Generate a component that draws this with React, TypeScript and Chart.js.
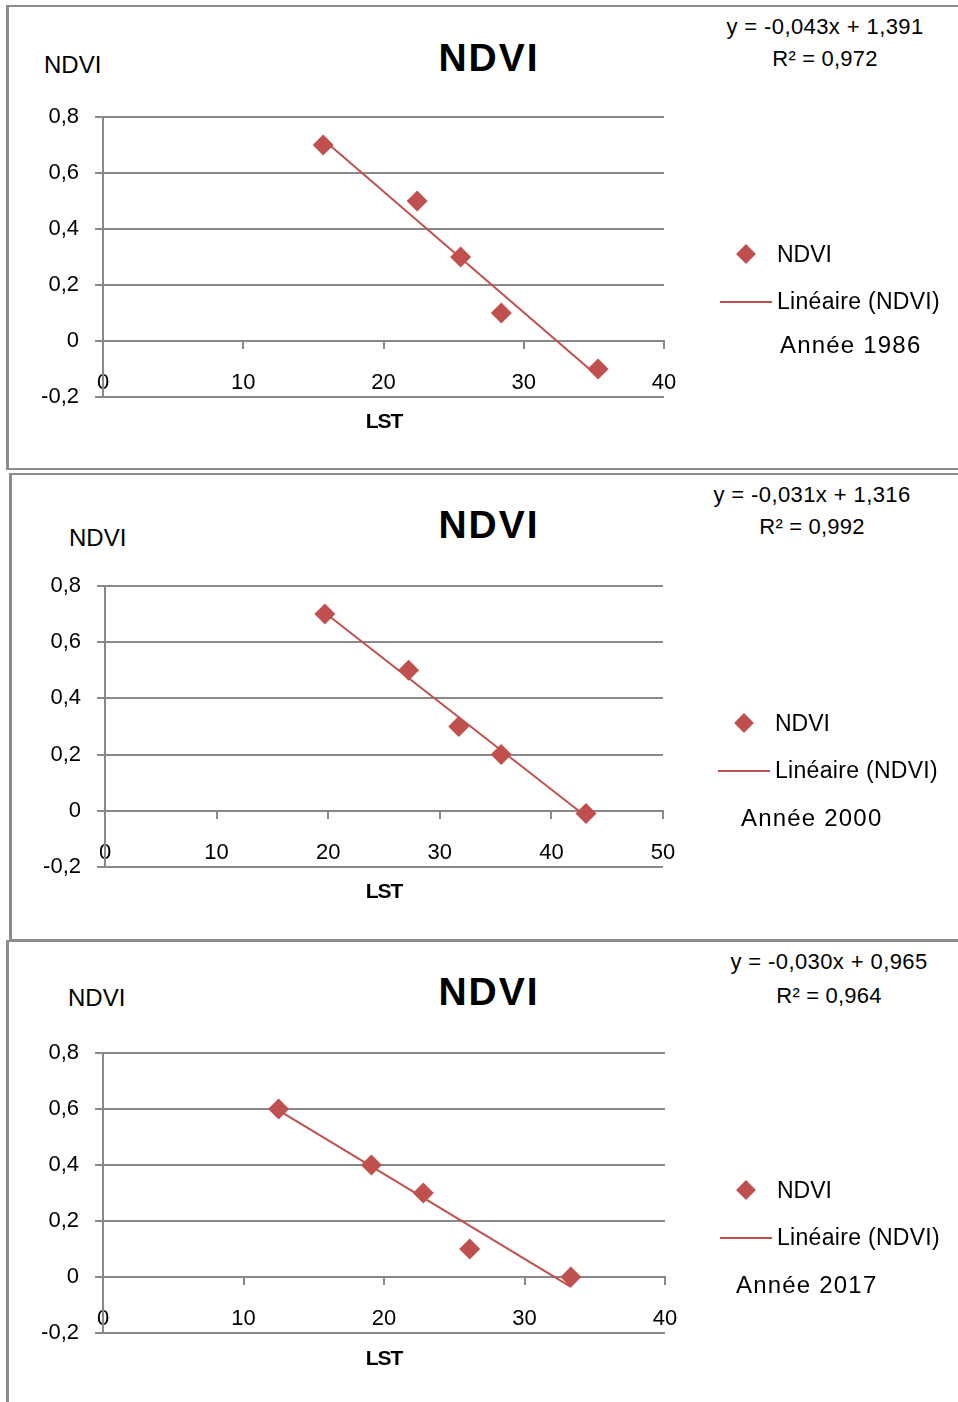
import React, { useEffect, useRef } from 'react';
import { Chart, registerables } from 'chart.js';

Chart.register(...registerables);

const FONT = '"Liberation Sans", Arial, Helvetica, sans-serif';
const RED = '#C0504D';
const GRID = '#898989';
const BORDER = '#8c8c8c';

// ---- data ----
const Y_TICKS = [-0.2, 0, 0.2, 0.4, 0.6, 0.8];
const X_TICKS_1986 = [0, 10, 20, 30, 40];
const X_TICKS_2000 = [0, 10, 20, 30, 40, 50];
const X_TICKS_2017 = [0, 10, 20, 30, 40];

const LST_1986 = [15.7, 22.4, 25.5, 28.4, 35.3];
const NDVI_1986 = [0.7, 0.5, 0.3, 0.1, -0.1];
const TREND_LST_1986 = [15.7, 35.3];
const TREND_NDVI_1986 = [0.72, -0.127];

const LST_2000 = [19.7, 27.2, 31.7, 35.5, 43.1];
const NDVI_2000 = [0.7, 0.5, 0.3, 0.2, -0.01];
const TREND_LST_2000 = [19.7, 43.1];
const TREND_NDVI_2000 = [0.705, -0.02];

const LST_2017 = [12.5, 19.1, 22.8, 26.1, 33.3];
const NDVI_2017 = [0.6, 0.4, 0.3, 0.1, 0.0];
const TREND_LST_2017 = [12.5, 33.3];
const TREND_NDVI_2017 = [0.595, -0.035];

const TITLE = 'NDVI';
const Y_TITLE = 'NDVI';
const X_TITLE = 'LST';
const LEGEND_POINTS = 'NDVI';
const LEGEND_TREND = 'Linéaire (NDVI)';
const EQUATIONS = ['y = -0,043x + 1,391', 'y = -0,031x + 1,316', 'y = -0,030x + 0,965'];
const R2_LABELS = ['R² = 0,972', 'R² = 0,992', 'R² = 0,964'];
const YEARS = ['Année 1986', 'Année 2000', 'Année 2017'];

const fmtY = (v: number) => (Math.abs(v) < 1e-9 ? '0' : v.toFixed(1).replace('.', ','));

const W = 958;
const PADT = 34;
const PADB = 34;
const YW = 70;

type ChartProps = {
  lst: number[];
  ndvi: number[];
  trendLst: number[];
  trendNdvi: number[];
  xTicks: number[];
  top: number;
  left: number;
  right: number;
  plotH: number;
};

function NdviChart({ lst, ndvi, trendLst, trendNdvi, xTicks, top, left, right, plotH }: ChartProps) {
  const ref = useRef<HTMLCanvasElement | null>(null);
  const H = plotH + PADT + PADB;
  useEffect(() => {
    const chart = new Chart(ref.current as HTMLCanvasElement, {
      type: 'scatter',
      data: {
        datasets: [
          {
            data: lst.map((x, i) => ({ x, y: ndvi[i] })),
            pointStyle: 'rectRot',
            pointRadius: 10.5,
            pointHoverRadius: 10.5,
            backgroundColor: RED,
            borderColor: RED,
            borderWidth: 0,
            clip: false,
          } as any,
          {
            data: trendLst.map((x, i) => ({ x, y: trendNdvi[i] })),
            showLine: true,
            pointRadius: 0,
            borderColor: RED,
            borderWidth: 2,
            clip: false,
          } as any,
        ],
      },
      options: {
        responsive: false,
        animation: false,
        events: [],
        layout: { padding: { left: left - YW, right: W - right, top: PADT, bottom: PADB } },
        plugins: {
          legend: { display: false },
          tooltip: { enabled: false },
          title: { display: false },
        },
        scales: {
          x: {
            type: 'linear',
            position: { y: 0 } as any,
            min: 0,
            max: xTicks[xTicks.length - 1],
            afterBuildTicks: (s: any) => {
              s.ticks = xTicks.map((v) => ({ value: v }));
            },
            grid: { drawOnChartArea: false, drawTicks: true, tickLength: 7, color: GRID, lineWidth: 2 },
            border: { display: true, color: GRID, width: 2 },
            ticks: {
              font: { family: FONT, size: 22 },
              color: '#000',
              padding: 22,
              maxRotation: 0,
              autoSkip: false,
              callback: (v: any) => String(v),
            },
          } as any,
          y: {
            type: 'linear',
            position: 'left',
            min: -0.2,
            max: 0.8,
            afterBuildTicks: (s: any) => {
              s.ticks = Y_TICKS.map((v) => ({ value: v }));
            },
            afterFit: (s: any) => {
              s.width = YW;
            },
            grid: { color: GRID, lineWidth: 2, tickLength: 8, drawTicks: true },
            border: { display: true, color: GRID, width: 2 },
            ticks: {
              font: { family: FONT, size: 22 },
              color: '#000',
              padding: 16,
              autoSkip: false,
              callback: (v: any) => fmtY(Number(v)),
            },
          } as any,
        },
      },
    });
    return () => chart.destroy();
  }, []);
  return (
    <canvas
      ref={ref}
      width={W}
      height={H}
      style={{ position: 'absolute', left: 0, top: top - PADT, width: W, height: H }}
    />
  );
}

type TProps = {
  x: number;
  y: number; // baseline
  size: number;
  bold?: boolean;
  center?: boolean;
  ls?: number;
  children: React.ReactNode;
};

function T({ x, y, size, bold, center, ls, children }: TProps) {
  return (
    <div
      style={{
        position: 'absolute',
        left: x,
        top: y - 0.8465 * size,
        fontFamily: FONT,
        fontSize: size,
        lineHeight: `${size}px`,
        fontWeight: bold ? 'bold' : 'normal',
        letterSpacing: ls ? `${ls}px` : undefined,
        whiteSpace: 'nowrap',
        color: '#000',
        transform: center ? 'translateX(-50%)' : undefined,
      }}
    >
      {children}
    </div>
  );
}

type PanelProps = {
  idx: number;
  box: { left: number; top: number; height: number; bottom: boolean };
  chart: ChartProps;
  titleY: number;
  yTitle: { x: number; y: number };
  xTitleY: number;
  eq: { x: number; y1: number; y2: number };
  legend: { dx: number; dy: number; ly: number; lineX: number; textX: number; ny: number; lty: number; yearX: number; yearY: number };
};

function Panel({ idx, box, chart, titleY, yTitle, xTitleY, eq, legend }: PanelProps) {
  return (
    <>
      <div
        style={{
          position: 'absolute',
          left: box.left,
          top: box.top,
          width: 1000,
          height: box.height,
          borderLeft: `3px solid ${BORDER}`,
          borderTop: `2px solid ${BORDER}`,
          borderBottom: box.bottom ? `2px solid ${BORDER}` : 'none',
          boxSizing: 'border-box',
        }}
      />
      <NdviChart {...chart} />
      <T x={489} y={titleY} size={39} bold center ls={2}>{TITLE}</T>
      <T x={yTitle.x} y={yTitle.y} size={24}>{Y_TITLE}</T>
      <T x={384} y={xTitleY} size={21} bold center ls={-1}>{X_TITLE}</T>
      <T x={eq.x} y={eq.y1} size={22} center ls={0.4}>{EQUATIONS[idx]}</T>
      <T x={eq.x} y={eq.y2} size={22} center ls={0.2}>{R2_LABELS[idx]}</T>
      <div
        style={{
          position: 'absolute',
          left: legend.dx - 7,
          top: legend.dy - 7,
          width: 14,
          height: 14,
          background: RED,
          transform: 'rotate(45deg)',
        }}
      />
      <T x={legend.textX} y={legend.ny} size={23}>{LEGEND_POINTS}</T>
      <div
        style={{
          position: 'absolute',
          left: legend.lineX,
          top: legend.ly - 1,
          width: 52,
          height: 2,
          background: RED,
        }}
      />
      <T x={legend.textX} y={legend.lty} size={23} ls={0.3}>{LEGEND_TREND}</T>
      <T x={legend.yearX} y={legend.yearY} size={24} ls={1.2}>{YEARS[idx]}</T>
    </>
  );
}

export default function App() {
  return (
    <div
      style={{
        position: 'absolute',
        left: 0,
        top: 0,
        width: W,
        height: 1402,
        overflow: 'hidden',
        background: '#fff',
      }}
    >
      <Panel
        idx={0}
        box={{ left: 6, top: 5, height: 465, bottom: true }}
        chart={{
          lst: LST_1986,
          ndvi: NDVI_1986,
          trendLst: TREND_LST_1986,
          trendNdvi: TREND_NDVI_1986,
          xTicks: X_TICKS_1986,
          top: 117,
          left: 103,
          right: 664,
          plotH: 280,
        }}
        titleY={71}
        yTitle={{ x: 44, y: 73 }}
        xTitleY={428}
        eq={{ x: 825, y1: 35, y2: 67 }}
        legend={{ dx: 746, dy: 254, ly: 302, lineX: 720, textX: 777, ny: 262, lty: 309, yearX: 780, yearY: 353 }}
      />
      <Panel
        idx={1}
        box={{ left: 9, top: 473, height: 468, bottom: true }}
        chart={{
          lst: LST_2000,
          ndvi: NDVI_2000,
          trendLst: TREND_LST_2000,
          trendNdvi: TREND_NDVI_2000,
          xTicks: X_TICKS_2000,
          top: 586,
          left: 105,
          right: 663,
          plotH: 281,
        }}
        titleY={538}
        yTitle={{ x: 69, y: 546 }}
        xTitleY={898}
        eq={{ x: 812, y1: 503, y2: 535 }}
        legend={{ dx: 744, dy: 723, ly: 771, lineX: 718, textX: 775, ny: 731, lty: 778, yearX: 741, yearY: 826 }}
      />
      <Panel
        idx={2}
        box={{ left: 6, top: 940, height: 500, bottom: false }}
        chart={{
          lst: LST_2017,
          ndvi: NDVI_2017,
          trendLst: TREND_LST_2017,
          trendNdvi: TREND_NDVI_2017,
          xTicks: X_TICKS_2017,
          top: 1053,
          left: 103,
          right: 665,
          plotH: 280,
        }}
        titleY={1005}
        yTitle={{ x: 68, y: 1006 }}
        xTitleY={1365}
        eq={{ x: 829, y1: 970, y2: 1004 }}
        legend={{ dx: 746, dy: 1190, ly: 1238, lineX: 720, textX: 777, ny: 1198, lty: 1245, yearX: 736, yearY: 1293 }}
      />
    </div>
  );
}
